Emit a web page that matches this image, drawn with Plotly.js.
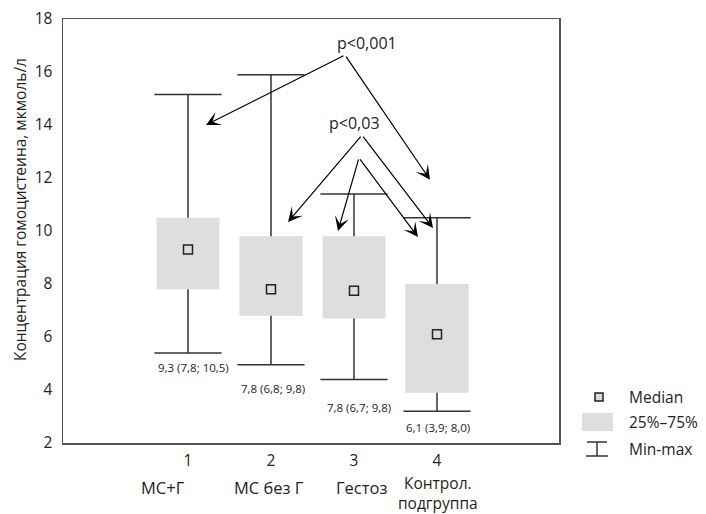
<!DOCTYPE html>
<html><head><meta charset="utf-8">
<script src="https://cdn.plot.ly/plotly-3.0.1.min.js"></script>
<style>html,body{margin:0;padding:0;background:#fff}</style>
</head><body><div id="chart" style="width:706px;height:514px"></div>
<script>
// ---- data ----
const groupIds = [1, 2, 3, 4];
const tickLabels = ['1', '2', '3', '4'];
const groupNames = ['МС+Г', 'МС без Г', 'Гестоз', 'Контрол.<br>подгруппа'];
const medians = [9.3, 7.8, 7.75, 6.1];
const q1 = [7.8, 6.8, 6.7, 3.9];
const q3 = [10.5, 9.8, 9.8, 8.0];
const mins = [5.4, 4.95, 4.4, 3.2];
const maxs = [15.15, 15.9, 11.4, 10.5];
const summaryLabels = ['9,3 (7,8; 10,5)', '7,8 (6,8; 9,8)', '7,8 (6,7; 9,8)', '6,1 (3,9; 8,0)'];
const pLabels = ['p<0,001', 'p<0,03'];
const legendLabels = ['Median', '25%–75%', 'Min-max'];

// ---- styling / layout helpers ----
const FONT = 'Open Sans, Noto Sans, sans-serif';
const TXT = '#231f20';
const L = 63, T = 19, W = 496, H = 424;
const PX = p => (p - L) / W;
const PY = p => (T + H - p) / H;

// whiskers (only outside the box)
const wx = [], wy = [];
groupIds.forEach((g, i) => {
  wx.push(g, g, null, g, g, null);
  wy.push(q3[i], maxs[i], null, mins[i], q1[i], null);
});

const traces = [
  { type: 'bar', x: groupIds, base: q1, y: q3.map((v, i) => v - q1[i]), width: 0.76,
    marker: { color: '#dedede', line: { width: 0 } }, hoverinfo: 'skip', showlegend: false },
  { type: 'scatter', mode: 'lines', x: wx, y: wy, line: { color: '#333', width: 1.5 },
    hoverinfo: 'skip', showlegend: false },
  { type: 'scatter', mode: 'markers', x: groupIds.concat(groupIds), y: mins.concat(maxs),
    marker: { symbol: 'line-ew', size: 48, line: { color: '#333', width: 1.5 } },
    hoverinfo: 'skip', showlegend: false },
  { type: 'scatter', mode: 'markers', x: groupIds, y: medians,
    marker: { symbol: 'square', size: 9, color: '#dcdcdc', line: { color: '#222', width: 1.5 } },
    hoverinfo: 'skip', showlegend: false }
];

const annotations = [];
// summary labels under whiskers
const sumShiftX = [5, 2, 5, 1], sumShiftY = [-15, -24, -28, -16];
groupIds.forEach((g, i) => annotations.push({
  x: g, y: mins[i], xref: 'x', yref: 'y', text: summaryLabels[i], showarrow: false,
  xshift: sumShiftX[i], yshift: sumShiftY[i], yanchor: 'middle',
  font: { family: FONT, size: 11.5, color: TXT }
}));
// group names under tick labels
const nameShift = [-25, -2, 8, 1];
groupIds.forEach((g, i) => {
  const multi = groupNames[i].indexOf('<br>') >= 0;
  annotations.push({
    x: g, y: PY(multi ? 493 : 487), xref: 'x', yref: 'paper', text: groupNames[i], showarrow: false,
    xshift: nameShift[i], yanchor: 'middle', borderpad: 0,
    font: { family: FONT, size: multi ? 15.5 : 16.5, color: TXT }
  });
});
// y title
annotations.push({ x: PX(20), y: PY(210), xref: 'paper', yref: 'paper', textangle: -90,
  xanchor: 'center', yanchor: 'middle',
  text: 'Концентрация гомоцистеина, мкмоль/л', showarrow: false,
  font: { family: FONT, size: 15.5, color: TXT } });
// p-value texts
annotations.push({ x: 3.157, y: 17.09, xref: 'x', yref: 'y', text: pLabels[0], showarrow: false,
  font: { family: FONT, size: 16, color: TXT } });
annotations.push({ x: 3.012, y: 14.07, xref: 'x', yref: 'y', text: pLabels[1], showarrow: false,
  font: { family: FONT, size: 16, color: TXT } });
// arrows [tailX, tailY, tipX, tipY]
const arrows = [
  [2.892, 16.64, 1.217, 14.0],
  [2.892, 16.64, 3.916, 11.93],
  [3.096, 13.62, 2.205, 10.34],
  [3.096, 13.62, 3.952, 10.11],
  [3.060, 12.76, 2.807, 10.0],
  [3.060, 12.76, 3.771, 9.77]
];
arrows.forEach(a => annotations.push({
  ax: a[0], ay: a[1], x: a[2], y: a[3], axref: 'x', ayref: 'y', xref: 'x', yref: 'y',
  text: '', showarrow: true, arrowhead: 3, arrowsize: 2.0, arrowwidth: 1.2, arrowcolor: '#000',
  standoff: 0, startstandoff: 0
}));
// legend texts
[397, 422, 449].forEach((py, i) => annotations.push({
  x: PX(627), y: PY(py), xref: 'paper', yref: 'paper', xanchor: 'left', yanchor: 'middle',
  text: legendLabels[i], showarrow: false, font: { family: FONT, size: 15.5, color: TXT }
}));

const shapes = [
  { type: 'rect', xref: 'paper', yref: 'paper', x0: PX(595), x1: PX(603), y0: PY(401), y1: PY(393),
    fillcolor: '#dcdcdc', line: { color: '#222', width: 1.5 } },
  { type: 'rect', xref: 'paper', yref: 'paper', x0: PX(582), x1: PX(613), y0: PY(431), y1: PY(413),
    fillcolor: '#dedede', line: { width: 0 } },
  { type: 'line', xref: 'paper', yref: 'paper', x0: PX(587), x1: PX(607), y0: PY(442), y1: PY(442),
    line: { color: '#333', width: 1.5 } },
  { type: 'line', xref: 'paper', yref: 'paper', x0: PX(597), x1: PX(597), y0: PY(442), y1: PY(456),
    line: { color: '#333', width: 1.5 } },
  { type: 'line', xref: 'paper', yref: 'paper', x0: PX(586), x1: PX(608), y0: PY(456), y1: PY(456),
    line: { color: '#333', width: 1.5 } }
];

const layout = {
  width: 706, height: 514,
  margin: { l: L, r: 706 - L - W, t: T, b: 514 - T - H, pad: 0 },
  paper_bgcolor: '#fff', plot_bgcolor: '#fff',
  showlegend: false,
  font: { family: FONT, size: 15, color: TXT },
  xaxis: { range: [-0.506, 5.47], showgrid: false, zeroline: false, showline: true, mirror: true,
    linecolor: '#555', linewidth: 1.5, tickvals: groupIds, ticktext: tickLabels, ticks: '',
    ticklabelstandoff: 3, tickfont: { family: FONT, size: 15.5, color: TXT }, fixedrange: true },
  yaxis: { range: [2, 18], tick0: 2, dtick: 2, showgrid: false, zeroline: false, showline: true,
    mirror: true, linecolor: '#555', linewidth: 1.5, ticks: '', ticklabelstandoff: 6,
    tickfont: { family: FONT, size: 15.5, color: TXT }, fixedrange: true },
  annotations: annotations,
  shapes: shapes
};

Plotly.newPlot('chart', traces, layout, { staticPlot: true, displayModeBar: false });
</script>
</body></html>
